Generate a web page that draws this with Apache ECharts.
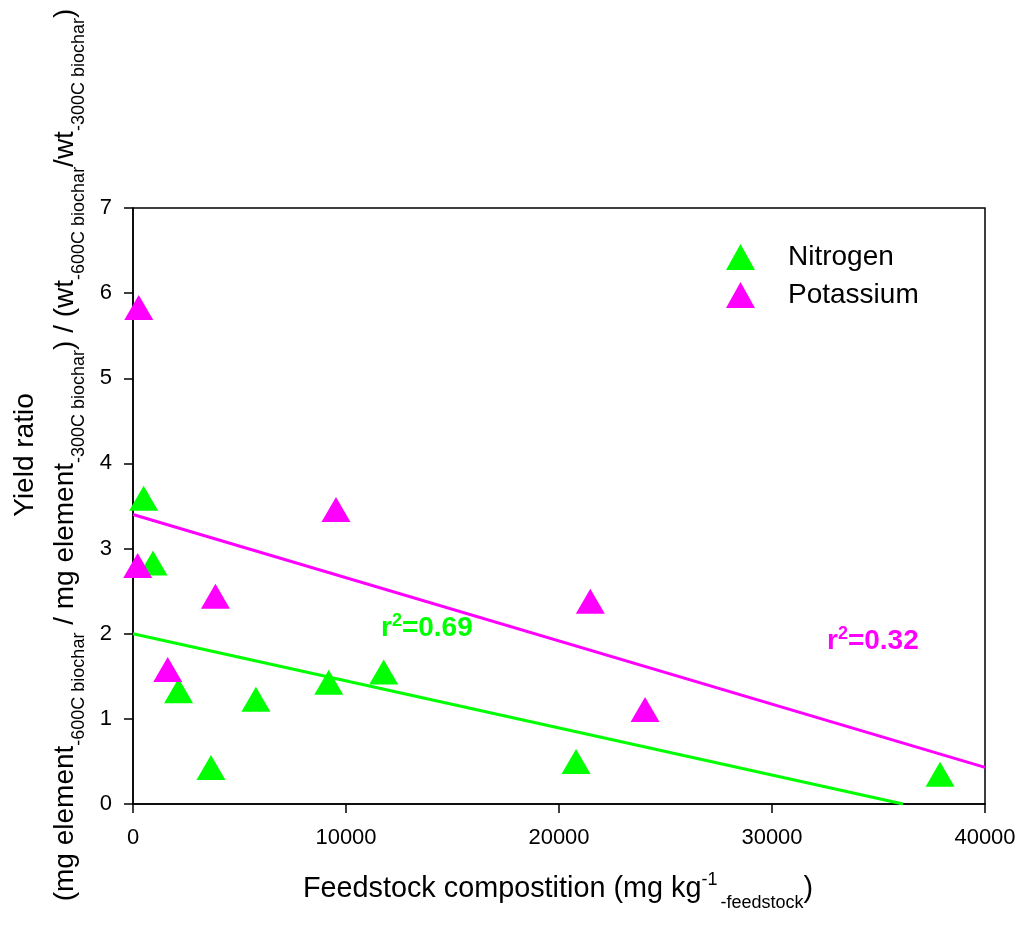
<!DOCTYPE html>
<html>
<head>
<meta charset="utf-8">
<script src="https://cdn.jsdelivr.net/npm/echarts@6/dist/echarts.min.js"></script>
<style>html,body{margin:0;padding:0;background:#fff;}#chart{width:1022px;height:931px;}</style>
</head>
<body>
<div id="chart"></div>
<script>
// Data
var nitrogenX = [500, 940, 2140, 3660, 5770, 9190, 11770, 20800, 37890];
var nitrogenY = [3.59, 2.83, 1.33, 0.43, 1.23, 1.43, 1.55, 0.50, 0.35];
var potassiumX = [270, 220, 1630, 3870, 9530, 21470, 24040];
var potassiumY = [5.83, 2.80, 1.58, 2.44, 3.46, 2.38, 1.11];
// Regression line endpoints
var nitrogenFitX = [0, 36150];
var nitrogenFitY = [2.0, 0];
var potassiumFitX = [0, 40000];
var potassiumFitY = [3.40, 0.43];
var xTicks = [0, 10000, 20000, 30000, 40000];
var yTicks = [0, 1, 2, 3, 4, 5, 6, 7];
var nitrogenR2 = '0.69';
var potassiumR2 = '0.32';

function zip(a, b) { return a.map(function (v, i) { return [v, b[i]]; }); }

var GREEN = '#00ff00', MAGENTA = '#ff00ff';
var FONT = 'Liberation Sans, Arial, sans-serif';

var chart = echarts.init(document.getElementById('chart'));
var option = {
  backgroundColor: '#fff',
  animation: false,
  grid: { left: 133, right: 37, top: 208, bottom: 127, show: true, borderColor: '#000', borderWidth: 1.5 },
  xAxis: {
    type: 'value', min: xTicks[0], max: xTicks[xTicks.length - 1], interval: 10000,
    axisLine: { show: true, lineStyle: { color: '#000', width: 1.5 } },
    axisTick: { show: true, length: 9, lineStyle: { color: '#000', width: 1.5 } },
    axisLabel: { color: '#000', fontSize: 22, fontFamily: FONT, margin: 23, formatter: function (v) { return String(v); } },
    splitLine: { show: false }
  },
  yAxis: {
    type: 'value', min: yTicks[0], max: yTicks[yTicks.length - 1], interval: 1,
    axisLine: { show: true, lineStyle: { color: '#000', width: 1.5 } },
    axisTick: { show: true, length: 9, lineStyle: { color: '#000', width: 1.5 } },
    axisLabel: { color: '#000', fontSize: 22, fontFamily: FONT, margin: 21 },
    splitLine: { show: false }
  },
  legend: {
    orient: 'vertical', left: 721, top: 238, itemGap: 10,
    itemWidth: 29, itemHeight: 26, icon: 'triangle',
    textStyle: { color: '#000', fontSize: 28, fontFamily: FONT, padding: [0, 0, 0, 28] },
    data: ['Nitrogen', 'Potassium']
  },
  series: [
    {
      name: 'NitrogenFit', type: 'line', data: zip(nitrogenFitX, nitrogenFitY),
      symbol: 'none', silent: true, lineStyle: { color: GREEN, width: 3 }, z: 1
    },
    {
      name: 'PotassiumFit', type: 'line', data: zip(potassiumFitX, potassiumFitY),
      symbol: 'none', silent: true, lineStyle: { color: MAGENTA, width: 3 }, z: 1
    },
    {
      name: 'Nitrogen', type: 'scatter', data: zip(nitrogenX, nitrogenY),
      symbol: 'triangle', symbolSize: [29, 25], itemStyle: { color: GREEN, opacity: 1 }, z: 3
    },
    {
      name: 'Potassium', type: 'scatter', data: zip(potassiumX, potassiumY),
      symbol: 'triangle', symbolSize: [29, 25], itemStyle: { color: MAGENTA, opacity: 1 }, z: 3
    }
  ],
  graphic: [
    {
      type: 'text', x: 25, y: 455, rotation: Math.PI / 2,
      style: { text: 'Yield ratio', fill: '#000', font: '28px ' + FONT, align: 'center', verticalAlign: 'middle' }
    },
    {
      type: 'text', x: 65, y: 455, rotation: Math.PI / 2,
      style: {
        text: '(mg element{s|-600C biochar} / mg element{s|-300C biochar}) / (wt{s|-600C biochar}/wt{s|-300C biochar})',
        fill: '#000', fontSize: 28, fontFamily: FONT, align: 'center', verticalAlign: 'middle',
        rich: { s: { fontSize: 18, fontFamily: FONT, fill: '#000', padding: [29, 0, 0, 0] } }
      }
    },
    {
      type: 'text', x: 558, y: 889,
      style: {
        text: 'Feedstock compostition (mg kg{p|-1}{s|-feedstock})',
        fill: '#000', fontSize: 28.8, fontFamily: FONT, align: 'center', verticalAlign: 'middle',
        rich: {
          p: { fontSize: 18, fontFamily: FONT, fill: '#000', padding: [0, 0, 17, 0] },
          s: { fontSize: 18, fontFamily: FONT, fill: '#000', padding: [29, 0, 0, 3] }
        }
      }
    },
    {
      type: 'text', x: 381, y: 628,
      style: {
        text: 'r{p|2}=' + nitrogenR2, fill: GREEN, fontSize: 28, fontWeight: 'bold', fontFamily: FONT,
        align: 'left', verticalAlign: 'middle',
        rich: { p: { fontSize: 18, fontWeight: 'bold', fontFamily: FONT, fill: GREEN, padding: [0, 0, 14, 0] } }
      }
    },
    {
      type: 'text', x: 827, y: 641,
      style: {
        text: 'r{p|2}=' + potassiumR2, fill: MAGENTA, fontSize: 28, fontWeight: 'bold', fontFamily: FONT,
        align: 'left', verticalAlign: 'middle',
        rich: { p: { fontSize: 18, fontWeight: 'bold', fontFamily: FONT, fill: MAGENTA, padding: [0, 0, 14, 0] } }
      }
    }
  ]
};
chart.setOption(option);
</script>
</body>
</html>
